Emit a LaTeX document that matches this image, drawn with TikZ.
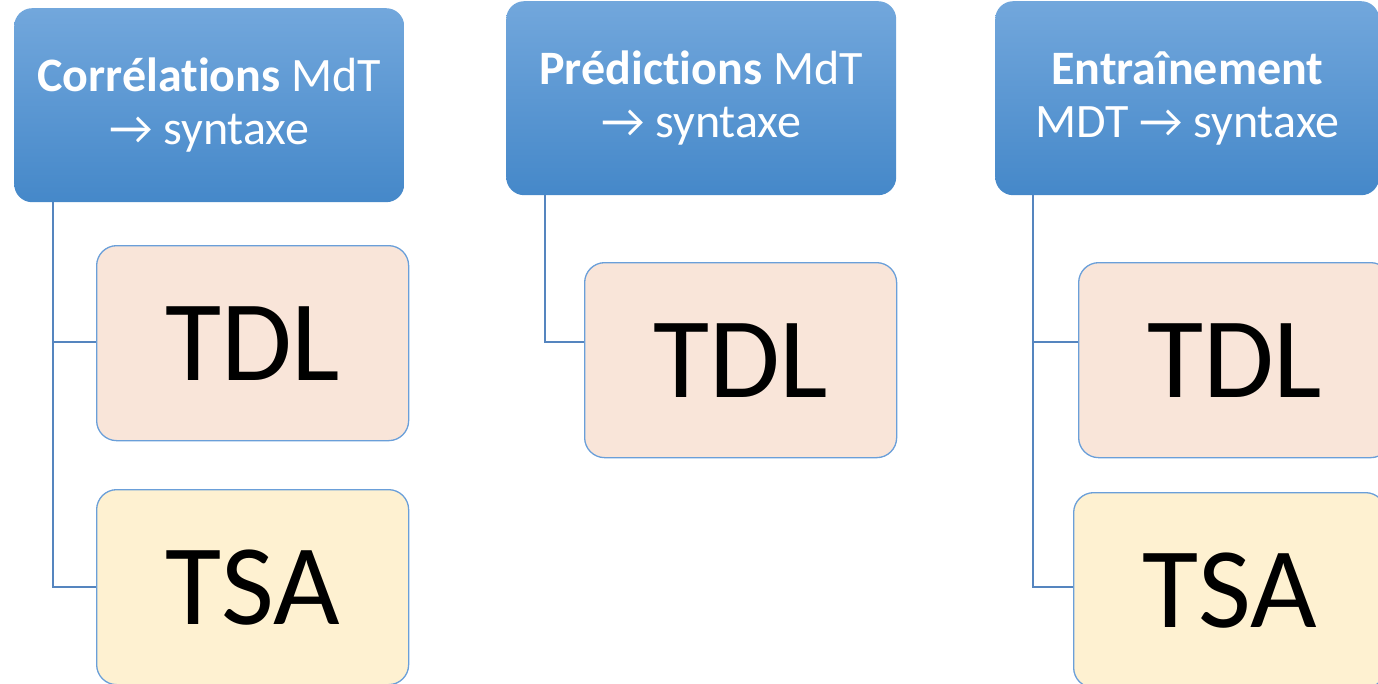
\documentclass[tikz,border=0pt]{standalone}
\usepackage{fontspec}
\setmainfont{Carlito}[Ligatures={NoCommon}]
\usetikzlibrary{calc}
\definecolor{hdtop}{HTML}{72A7DC}
\definecolor{hdbot}{HTML}{4588C9}
\definecolor{tdlfill}{HTML}{F9E5D9}
\definecolor{tsafill}{HTML}{FEF1D1}
\definecolor{boxline}{HTML}{6A9FD9}
\definecolor{linkline}{HTML}{5585BF}
\begin{document}
\begin{tikzpicture}[x=1pt,y=-1pt,
  header/.style={rounded corners=18pt, top color=hdtop, bottom color=hdbot,
    draw=none, minimum width=390pt, minimum height=194pt, anchor=north west,
    text=white, align=center, font=\fontsize{48}{53}\selectfont, inner sep=0pt},
  leaf/.style={rounded corners=20pt, draw=boxline, line width=1.3pt,
    minimum width=312pt, minimum height=195pt, anchor=north west,
    font=\fontsize{115}{120}\selectfont, inner sep=0pt},
  tdl/.style={leaf, fill=tdlfill},
  tsa/.style={leaf, fill=tsafill},
  link/.style={draw=linkline, line width=1.3pt}]
\useasboundingbox (0,0) rectangle (1378,683);

% column 1
\node[header] (h1) at (14,8) {\textbf{Corrélations} MdT\\→ syntaxe};
\node[tdl] (t1) at (96,245) {TDL};
\node[tsa] (s1) at (96,489) {TSA};
\draw[link] ($(h1.south west)+(39,0)$) |- ($(t1.north west)+(0,97)$);
\draw[link] ($(h1.south west)+(39,0)$) |- ($(s1.north west)+(0,98)$);

% column 2
\node[header] (h2) at (506,1) {\textbf{Prédictions} MdT\\→ syntaxe};
\node[tdl] (t2) at (584,262) {TDL};
\draw[link] ($(h2.south west)+(39,0)$) |- ($(t2.north west)+(0,80)$);

% column 3
\node[header, minimum width=384pt] (h3) at (995,1) {\textbf{Entraînement}\\MDT → syntaxe};
\node[tdl] (t3) at (1078,262) {TDL};
\node[tsa] (s3) at (1073,492) {TSA};
\draw[link] ($(h3.south west)+(38,0)$) |- ($(t3.north west)+(0,80)$);
\draw[link] ($(h3.south west)+(38,0)$) |- ($(s3.north west)+(0,95)$);
\end{tikzpicture}
\end{document}
